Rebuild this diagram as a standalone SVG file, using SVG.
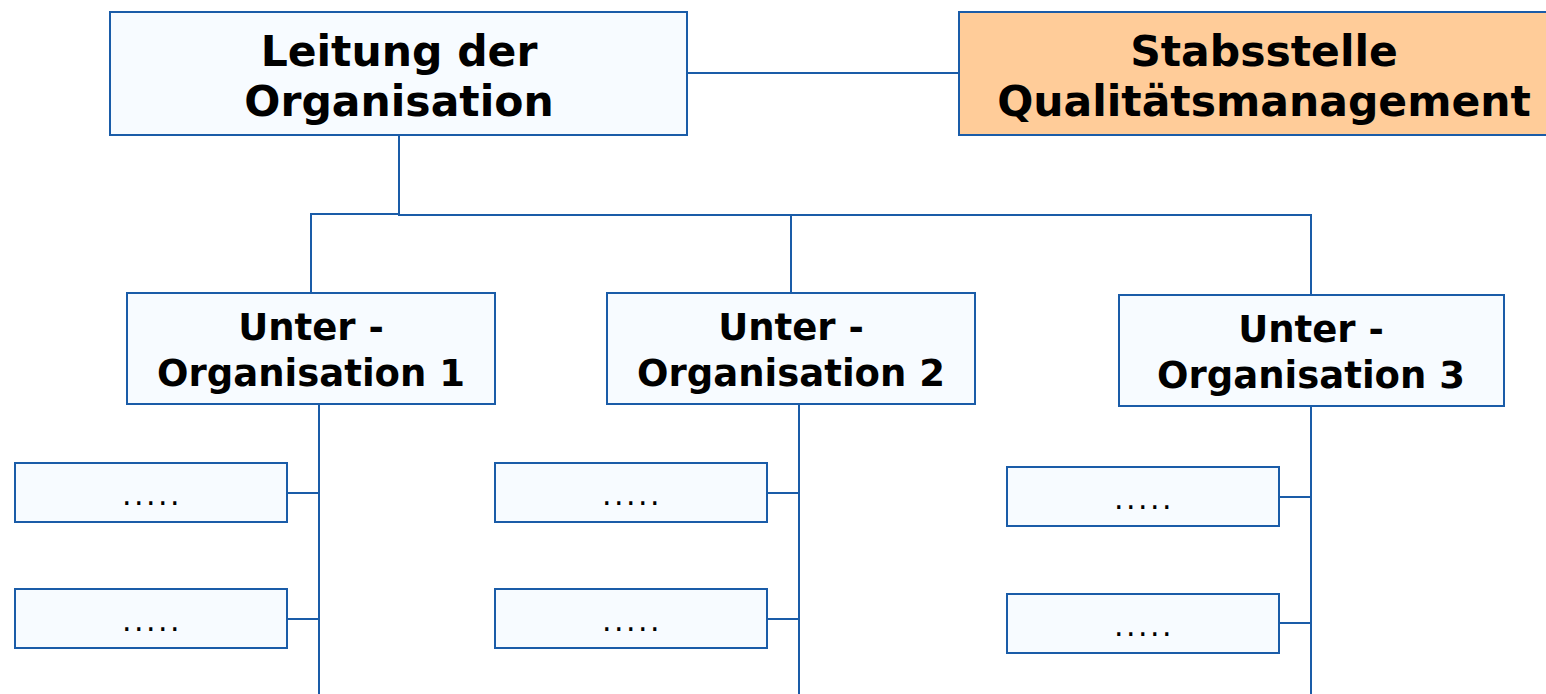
<svg xmlns="http://www.w3.org/2000/svg" width="1546" height="694" viewBox="0 0 1546 694">
<style>
.box{fill:#F7FBFF;stroke:#1A5CA8;stroke-width:2}
.staff{fill:#FFCC99;stroke:#1A5CA8;stroke-width:2}
.con{fill:none;stroke:#1A5CA8;stroke-width:2}
.t{font-family:"DejaVu Sans",Verdana,sans-serif;font-weight:bold;fill:#000;text-anchor:middle}
.big{font-size:42.5px}
.mid{font-size:37px}
.dots{font-family:"DejaVu Sans",Verdana,sans-serif;font-size:30px;letter-spacing:2.5px;fill:#000;text-anchor:middle}
</style>
<rect width="1546" height="694" fill="#fff"/>
<g id="connectors">
<line class="con" x1="687" y1="73" x2="959" y2="73"/>
<polyline class="con" points="399,135 399,215 1311,215 1311,295"/>
<polyline class="con" points="311,293 311,214 399,214"/>
<line class="con" x1="791" y1="215" x2="791" y2="293"/>
<line class="con" x1="319" y1="401" x2="319" y2="694"/>
<line class="con" x1="799" y1="401" x2="799" y2="694"/>
<line class="con" x1="1311" y1="406" x2="1311" y2="694"/>
<line class="con" x1="287" y1="493" x2="319" y2="493"/>
<line class="con" x1="287" y1="619" x2="319" y2="619"/>
<line class="con" x1="767" y1="493" x2="799" y2="493"/>
<line class="con" x1="767" y1="619" x2="799" y2="619"/>
<line class="con" x1="1279" y1="497" x2="1311" y2="497"/>
<line class="con" x1="1279" y1="623" x2="1311" y2="623"/>
</g>
<g id="leitung">
<rect class="box" x="110" y="12" width="577" height="123"/>
<text class="t big" x="399" y="66">Leitung der</text>
<text class="t big" x="399" y="116">Organisation</text>
</g>
<g id="stabsstelle">
<rect class="staff" x="959" y="12" width="612" height="123"/>
<text class="t big" x="1264" y="66">Stabsstelle</text>
<text class="t big" x="1264" y="116">Qualitätsmanagement</text>
</g>
<g id="unter1">
<rect class="box" x="127" y="293" width="368" height="111"/>
<text class="t mid" x="311" y="340">Unter -</text>
<text class="t mid" x="311" y="386">Organisation 1</text>
</g>
<g id="unter2">
<rect class="box" x="607" y="293" width="368" height="111"/>
<text class="t mid" x="791" y="340">Unter -</text>
<text class="t mid" x="791" y="386">Organisation 2</text>
</g>
<g id="unter3">
<rect class="box" x="1119" y="295" width="385" height="111"/>
<text class="t mid" x="1311" y="342">Unter -</text>
<text class="t mid" x="1311" y="388">Organisation 3</text>
</g>
<g id="sub1a"><rect class="box" x="15" y="463" width="272" height="59"/><text class="dots" x="152" y="505">.....</text></g>
<g id="sub1b"><rect class="box" x="15" y="589" width="272" height="59"/><text class="dots" x="152" y="631">.....</text></g>
<g id="sub2a"><rect class="box" x="495" y="463" width="272" height="59"/><text class="dots" x="632" y="505">.....</text></g>
<g id="sub2b"><rect class="box" x="495" y="589" width="272" height="59"/><text class="dots" x="632" y="631">.....</text></g>
<g id="sub3a"><rect class="box" x="1007" y="467" width="272" height="59"/><text class="dots" x="1144" y="509">.....</text></g>
<g id="sub3b"><rect class="box" x="1007" y="594" width="272" height="59"/><text class="dots" x="1144" y="636">.....</text></g>
</svg>
